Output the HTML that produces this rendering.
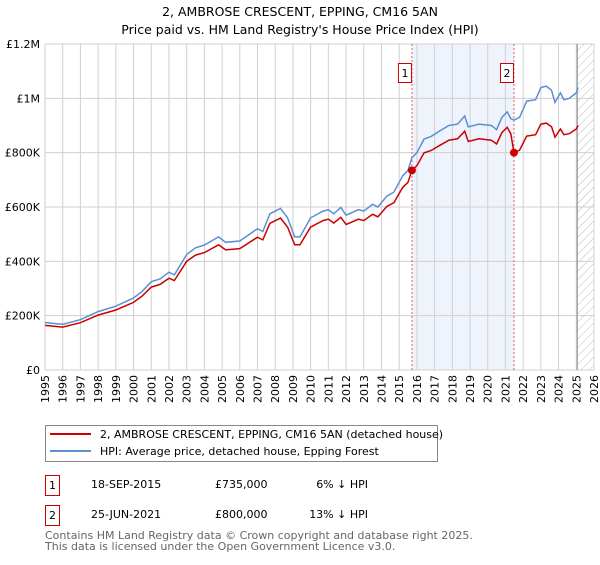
<!DOCTYPE html>
<html><head><meta charset="utf-8"><style>
body{margin:0;background:#fff;font-family:"Liberation Sans","DejaVu Sans",sans-serif;}
svg text{font-family:"DejaVu Sans","Liberation Sans",sans-serif;}
</style></head><body>
<svg id="chart" width="600" height="560" viewBox="0 0 600 560" xmlns="http://www.w3.org/2000/svg">
<text x="300" y="16" text-anchor="middle" font-size="12.5" fill="#000">2, AMBROSE CRESCENT, EPPING, CM16 5AN</text>
<text x="300" y="34" text-anchor="middle" font-size="12.5" fill="#000">Price paid vs. HM Land Registry's House Price Index (HPI)</text>
<g id="bg"></g><g id="grid"></g><g id="axes"></g><g id="lines"></g><g id="marks"></g>
<g>
<rect x="45.5" y="425.5" width="392" height="36" fill="#fff" stroke="#888"/>
<line x1="50" y1="434" x2="91" y2="434" stroke="#cc0000" stroke-width="2"/>
<text x="100" y="438" font-size="11">2, AMBROSE CRESCENT, EPPING, CM16 5AN (detached house)</text>
<line x1="50" y1="451" x2="91" y2="451" stroke="#5b8fd4" stroke-width="2"/>
<text x="100" y="455" font-size="11">HPI: Average price, detached house, Epping Forest</text>
</g>
<g font-size="11">
<rect x="45.5" y="475.5" width="14" height="20" fill="#fff" stroke="#cc0000"/>
<text x="52.5" y="489" text-anchor="middle">1</text>
<text x="91" y="488">18-SEP-2015</text><text x="215" y="488">£735,000</text><text x="368" y="488" text-anchor="end">6% ↓ HPI</text>
<rect x="45.5" y="505.5" width="14" height="20" fill="#fff" stroke="#cc0000"/>
<text x="52.5" y="519" text-anchor="middle">2</text>
<text x="91" y="518">25-JUN-2021</text><text x="215" y="518">£800,000</text><text x="368" y="518" text-anchor="end">13% ↓ HPI</text>
</g>
<text x="45" y="539" font-size="11" fill="#666">Contains HM Land Registry data © Crown copyright and database right 2025.</text>
<text x="45" y="550" font-size="11" fill="#666">This data is licensed under the Open Government Licence v3.0.</text>
</svg>
<script>
const years=[1995.0,1996.0,1997.0,1998.0,1999.0,2000.0,2000.5,2001.0,2001.5,2002.0,2002.3,2003.0,2003.5,2004.0,2004.8,2005.2,2006.0,2007.0,2007.3,2007.7,2008.3,2008.7,2009.1,2009.4,2010.0,2010.7,2011.0,2011.3,2011.7,2012.0,2012.7,2013.0,2013.5,2013.8,2014.3,2014.7,2015.2,2015.5,2015.72,2016.0,2016.4,2016.8,2017.3,2017.8,2018.3,2018.7,2018.9,2019.5,2020.2,2020.5,2020.8,2021.1,2021.3,2021.48,2021.8,2022.2,2022.7,2023.0,2023.3,2023.6,2023.8,2024.1,2024.3,2024.6,2025.0,2025.1];
const hpiValues=[175,168,185,215,235,265,290,325,335,360,350,425,450,460,490,470,475,520,510,575,595,560,490,490,560,585,590,575,598,570,590,585,610,600,640,655,715,735,782,800,850,860,880,900,905,935,895,905,900,885,930,950,925,920,930,990,995,1040,1045,1030,985,1020,995,1000,1020,1040];
const priceValues=[164,158,174,202,221,249,273,305,315,338,329,400,423,432,461,442,447,489,479,540,559,526,461,461,526,550,555,541,562,536,555,550,573,564,602,616,672,691,735,752,799,808,827,846,851,879,841,851,846,832,874,893,870,800,809,861,866,905,909,896,857,887,866,870,887,900];
const saleYears=[2015.72,2021.48];
const saleValues=[735,800];
const saleLabels=["1","2"];
const yTicks=[0,200,400,600,800,1000,1200];
const yTickLabels=["£0","£200K","£400K","£600K","£800K","£1M","£1.2M"];
const xStart=1995,xEnd=2026,hatchStart=2025.05;
const L=45,R=594,T=44,B=370;
const x=v=>L+(v-xStart)/(xEnd-xStart)*(R-L);
const y=v=>B-v/1200*(B-T);
const NS="http://www.w3.org/2000/svg";
function mk(tag,attrs,parent){const e=document.createElementNS(NS,tag);for(const k in attrs)e.setAttribute(k,attrs[k]);document.getElementById(parent).appendChild(e);return e;}
// background: shaded region and hatch
const defs=document.createElementNS(NS,'defs');
defs.innerHTML='<pattern id="hatch" width="6" height="6" patternUnits="userSpaceOnUse" patternTransform="rotate(45)"><line x1="0" y1="0" x2="0" y2="6" stroke="#bbb" stroke-width="1"/></pattern>';
document.getElementById('chart').appendChild(defs);
let r=mk('rect',{x:x(saleYears[0]),y:T,width:x(saleYears[1])-x(saleYears[0]),height:B-T,fill:'#eef3fc'},'bg');


r=mk('rect',{x:x(hatchStart),y:T,width:R-x(hatchStart),height:B-T,fill:'url(#hatch)'},'bg');


// grid
for(let yr=xStart;yr<=xEnd;yr++){
  const gl=mk('line',{x1:x(yr),x2:x(yr),y1:T,y2:B,stroke:'#d0d0d0','stroke-width':1},'grid');
  
  
  const t=mk('text',{x:0,y:0,'font-size':11,'text-anchor':'end',transform:`translate(${x(yr)+4},${B+5}) rotate(-90)`},'axes');
  t.textContent=yr;
  
  
}
yTicks.forEach((v,i)=>{
  const gl=mk('line',{x1:L,x2:R,y1:y(v),y2:y(v),stroke:'#d0d0d0','stroke-width':1},'grid');
  
  
  const t=mk('text',{x:L-5,y:y(v)+4,'font-size':11,'text-anchor':'end'},'axes');
  t.textContent=yTickLabels[i];
  
  
});
let ln=mk('line',{x1:x(hatchStart),x2:x(hatchStart),y1:T,y2:B,stroke:'#888','stroke-width':1},'grid');


saleYears.forEach((s,i)=>{
  const d=mk('line',{x1:x(s),x2:x(s),y1:T,y2:B,stroke:'#e06060','stroke-width':1,'stroke-dasharray':'2,2'},'grid');
  
  
});
// lines
const pts=(vals)=>years.map((yr,i)=>x(yr).toFixed(1)+','+y(vals[i]).toFixed(1)).join(' ');
let p=mk('polyline',{points:pts(hpiValues),fill:'none',stroke:'#5b8fd4','stroke-width':1.5},'lines');


p=mk('polyline',{points:pts(priceValues),fill:'none',stroke:'#cc0000','stroke-width':1.5},'lines');


saleYears.forEach((s,i)=>{
  const c=mk('circle',{cx:x(s),cy:y(saleValues[i]),r:4,fill:'#cc0000'},'marks');
  
  
  const b=mk('rect',{x:x(s)-13.5,y:63.5,width:13,height:19,fill:'#fff',stroke:'#cc0000'},'marks');
  
  
  const t=mk('text',{x:x(s)-7,y:77,'font-size':11,'text-anchor':'middle'},'marks');
  t.textContent=saleLabels[i];
  
  
});
</script>
</body></html>
